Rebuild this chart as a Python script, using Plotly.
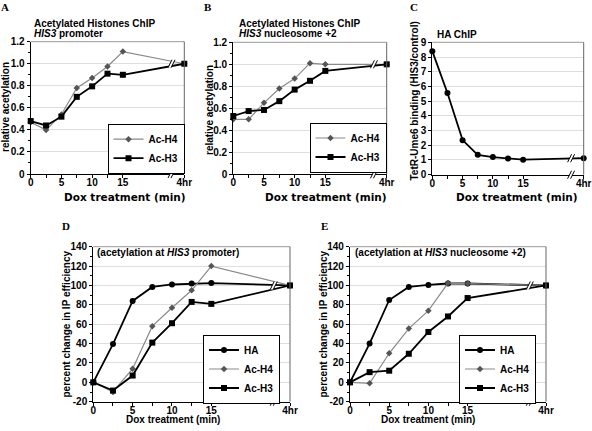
import plotly.graph_objects as go

W, H = 592, 431

# ---------------- data ----------------
x_labels = ["0", "", "5", "", "10", "", "15", "4hr"]
x_pos = [0, 2.5, 5, 7.5, 10, 12.5, 15, 25]          # 4hr drawn after the axis break
break_pos = 23

a_h4 = [0.47, 0.40, 0.54, 0.78, 0.87, 0.975, 1.11, 1.0]
a_h3 = [0.48, 0.44, 0.52, 0.70, 0.795, 0.91, 0.90, 1.0]

b_h4 = [0.50, 0.50, 0.65, 0.78, 0.87, 1.01, 1.00, 1.0]
b_h3 = [0.53, 0.575, 0.585, 0.665, 0.77, 0.85, 0.94, 1.0]

c_ha = [8.4, 5.55, 2.35, 1.35, 1.2, 1.1, 1.02, 1.12]

d_ha = [0, 39.5, 84, 98.5, 101, 102, 102.5, 100]
d_h4 = [0, -10, 14, 58, 77, 95, 120, 100]
d_h3 = [0, -8.5, 7, 41, 61, 83, 81, 100]

e_ha = [0, 40, 85, 98.5, 100.5, 102, 102, 100]
e_h4 = [0, -1, 30, 55.5, 74, 102.5, 102, 100]
e_h3 = [0, 10.5, 12, 29.5, 52, 68, 87, 100]

rel_ticks = [0, 0.2, 0.4, 0.6, 0.8, 1.0, 1.2]
rel_text = ["0", "0.2", "0.4", "0.6", "0.8", "1.0", "1.2"]
c_ticks = list(range(0, 10))
c_text = [str(v) for v in c_ticks]
pct_ticks = [-20, 0, 20, 40, 60, 80, 100, 120, 140]
pct_text = [str(v) for v in pct_ticks]

# ---------------- styles ----------------
FONT = "Liberation Sans, Arial, sans-serif"
WIDE = "DejaVu Sans, sans-serif"
SERIF = "Liberation Serif, Times New Roman, serif"
GRAY = "#8a8a8a"

fig = go.Figure()

def px_x(p):
    return p / W

def px_y(p):
    return 1 - p / H

panels = {
    1: (30.7, 184.3, 41.7, 174.0, [0, 1.2], rel_ticks, rel_text, 0.1),
    2: (233.3, 386.7, 42.3, 174.3, [0, 1.2], rel_ticks, rel_text, 0.1),
    3: (432.3, 583.7, 42.3, 174.7, [0, 9], c_ticks, c_text, None),
    4: (93.3, 290.0, 246.7, 401.7, [-20, 140], pct_ticks, pct_text, 10),
    5: (350.0, 546.0, 246.7, 401.7, [-20, 140], pct_ticks, pct_text, 10),
}

tickfont = dict(family=FONT, size=10, color="black", weight="bold")

layout_axes = {}
for i, (l, r, t, b, yr, ytv, ytt, minor) in panels.items():
    xa = "xaxis" if i == 1 else f"xaxis{i}"
    ya = "yaxis" if i == 1 else f"yaxis{i}"
    yid = "y" if i == 1 else f"y{i}"
    xid = "x" if i == 1 else f"x{i}"
    layout_axes[xa] = dict(
        domain=[px_x(l), px_x(r)], anchor=yid, range=[0, 25], automargin=False,
        ticklabeloverflow="allow", ticklabelstandoff=-4,
        tickvals=x_pos, ticktext=x_labels, ticks="outside", ticklen=3, tickwidth=1,
        tickcolor="black", showline=True, linecolor="black", linewidth=1.2,
        showgrid=False, zeroline=False, tickfont=tickfont,
    )
    yax = dict(
        domain=[px_y(b), px_y(t)], anchor=xid, range=yr, automargin=False,
        ticklabeloverflow="allow", tickvals=ytv, ticktext=ytt, showticklabels=True,
        ticks="outside", ticklen=3, tickwidth=1,
        tickcolor="black", showline=True, linecolor="black", linewidth=1.2,
        showgrid=True, gridcolor="#dedede", gridwidth=1, zeroline=False, tickfont=tickfont,
    )
    if minor:
        yax["minor"] = dict(dtick=minor, ticks="outside", ticklen=2, tickcolor="black", showgrid=False)
    layout_axes[ya] = yax
    fig.add_shape(type="line", xref=f"{xid} domain", yref=f"{yid} domain", x0=0, x1=1, y0=1, y1=1,
                  line=dict(color="#999999", width=1))
    fig.add_shape(type="line", xref=f"{xid} domain", yref=f"{yid} domain", x0=1, x1=1, y0=0, y1=1,
                  line=dict(color="#666666", width=1))

def h4_trace(y, xid, yid, legend, show=True):
    return go.Scatter(x=x_pos, y=y, xaxis=xid, yaxis=yid, name="Ac-H4", legend=legend,
                      mode="lines+markers", showlegend=show, cliponaxis=False,
                      line=dict(color=GRAY, width=1.2),
                      marker=dict(symbol="diamond", size=5, color="#555555"))

def h3_trace(y, xid, yid, legend, show=True):
    return go.Scatter(x=x_pos, y=y, xaxis=xid, yaxis=yid, name="Ac-H3", legend=legend,
                      mode="lines+markers", showlegend=show, cliponaxis=False,
                      line=dict(color="black", width=1.8),
                      marker=dict(symbol="square", size=6, color="black"))

def ha_trace(y, xid, yid, legend, show=True):
    return go.Scatter(x=x_pos, y=y, xaxis=xid, yaxis=yid, name="HA", legend=legend,
                      mode="lines+markers", showlegend=show, cliponaxis=False,
                      line=dict(color="black", width=1.8),
                      marker=dict(symbol="circle", size=6, color="black"))

fig.add_trace(h4_trace(a_h4, "x", "y", "legend"))
fig.add_trace(h3_trace(a_h3, "x", "y", "legend"))
fig.add_trace(h4_trace(b_h4, "x2", "y2", "legend2"))
fig.add_trace(h3_trace(b_h3, "x2", "y2", "legend2"))
fig.add_trace(ha_trace(c_ha, "x3", "y3", "legend", show=False))
fig.add_trace(ha_trace(d_ha, "x4", "y4", "legend3"))
fig.add_trace(h4_trace(d_h4, "x4", "y4", "legend3"))
fig.add_trace(h3_trace(d_h3, "x4", "y4", "legend3"))
fig.add_trace(ha_trace(e_ha, "x5", "y5", "legend4"))
fig.add_trace(h4_trace(e_h4, "x5", "y5", "legend4"))
fig.add_trace(h3_trace(e_h3, "x5", "y5", "legend4"))

# ---------------- axis breaks ----------------
def add_break(xid, yref, yval):
    fig.add_shape(type="path", xref=xid, yref=yref, xsizemode="pixel", ysizemode="pixel",
                  xanchor=break_pos, yanchor=yval,
                  path="M -4,-4 L 0,4 L 3,4 L -1,-4 Z", fillcolor="white", line=dict(width=0))
    for dx in (-4, -1):
        fig.add_shape(type="line", xref=xid, yref=yref, xsizemode="pixel", ysizemode="pixel",
                      xanchor=break_pos, yanchor=yval, x0=dx, x1=dx + 4, y0=-4, y1=4,
                      line=dict(color="black", width=1))

series_at_break = {1: a_h4, 2: b_h4, 3: c_ha, 4: d_ha, 5: e_ha}
for i, s in series_at_break.items():
    xid = "x" if i == 1 else f"x{i}"
    yid = "y" if i == 1 else f"y{i}"
    add_break(xid, f"{yid} domain", 0)
    add_break(xid, yid, s[-1])

# ---------------- text ----------------
def ann(text, x, y, size=10, family=FONT, angle=0, xanchor="center", weight="bold"):
    fig.add_annotation(text=text, x=px_x(x), y=px_y(y), xref="paper", yref="paper",
                       showarrow=False, xanchor=xanchor, yanchor="middle", textangle=angle,
                       font=dict(family=family, size=size, color="black", weight=weight))

for letter, (lx, ly) in {"A": (4.5, 6.7), "B": (208, 6.7), "C": (414, 6.7),
                         "D": (66, 225.7), "E": (324.5, 226)}.items():
    ann(letter, lx, ly, size=11, family=SERIF)

ann("Acetylated Histones ChIP", 32, 23.5, xanchor="left")
ann("<i>HIS3</i> promoter", 32, 33.5, xanchor="left")
ann("Acetylated Histones ChIP", 236.7, 23.8, xanchor="left")
ann("<i>HIS3</i> nucleosome +2", 236.7, 33.8, xanchor="left")
ann("HA ChIP", 435, 34, xanchor="left")
ann("(acetylation at <i>HIS3</i> promoter)", 95, 252.7, xanchor="left")
ann("(acetylation at <i>HIS3</i> nucleosome +2)", 352.7, 252.7, xanchor="left")

ann("relative acetylation", 5.5, 107.5, angle=-90)
ann("relative acetylation", 209, 110, angle=-90)
ann("TetR-Ume6 binding (HIS3/control)", 413.5, 101, angle=-90)
ann("percent change in IP efficiency", 65.5, 324, angle=-90)
ann("percent change in IP efficiency", 322.5, 324, angle=-90)
ann("Dox treatment (min)", 125, 196.5, size=10.5, family=WIDE)
ann("Dox treatment (min)", 325.7, 196.5, size=10.5, family=WIDE)
ann("Dox treatment (min)", 517, 196.5, size=10.5, family=WIDE)
ann("Dox treatment (min)", 172.5, 419)
ann("Dox treatment (min)", 428.3, 419)

legend_style = dict(bgcolor="white", bordercolor="black", borderwidth=1,
                    font=dict(family=FONT, size=10, color="black", weight="bold"),
                    xanchor="center", yanchor="middle", tracegroupgap=0, itemwidth=30)

fig.update_layout(
    width=W, height=H, autosize=False,
    margin=dict(l=0, r=0, t=0, b=0),
    paper_bgcolor="white", plot_bgcolor="white",
    font=dict(family=FONT, size=10, color="black"),
    legend=dict(x=px_x(146), y=px_y(148.7), **legend_style),
    legend2=dict(x=px_x(348), y=px_y(147.5), **legend_style),
    legend3=dict(x=px_x(241.5), y=px_y(369), **legend_style),
    legend4=dict(x=px_x(497.5), y=px_y(369), **legend_style),
    **layout_axes,
)

fig.write_html("out.html", config={"displayModeBar": False},
               post_script="document.body.style.margin='0';")
